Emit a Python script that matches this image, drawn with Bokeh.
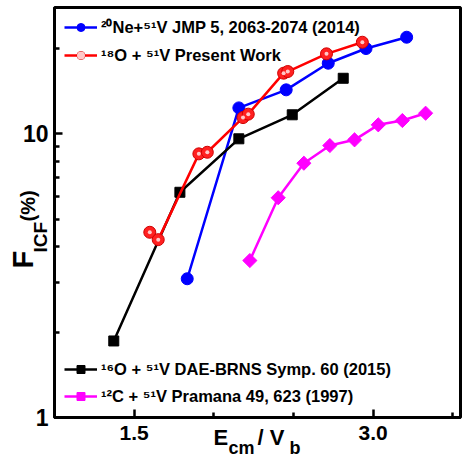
import math
from bokeh.plotting import figure
from bokeh.models import (Range1d, FixedTicker, Legend, LegendItem, Title,
                          NumeralTickFormatter, PrintfTickFormatter)
from bokeh.embed import file_html
from bokeh.resources import INLINE

# ---- data ----
ne_x = [1.833, 2.157, 2.454, 2.718, 2.955, 3.210]
ne_y = [3.08, 12.31, 14.25, 17.68, 19.92, 21.83]

o18_x = [1.598, 1.651, 1.906, 1.959, 2.183, 2.216, 2.438, 2.464, 2.707, 2.932]
o18_y = [4.49, 4.23, 8.48, 8.59, 11.38, 11.70, 16.31, 16.53, 19.08, 20.96]

o16_x = [1.372, 1.787, 2.157, 2.492, 2.812]
o16_y = [1.86, 6.21, 9.58, 11.64, 15.65]

c12_x = [2.226, 2.404, 2.565, 2.728, 2.883, 3.032, 3.183, 3.329]
c12_y = [3.57, 5.94, 7.86, 9.07, 9.50, 10.73, 11.11, 11.79]

x_ticks = [1.5, 3.0]
x_minor = [2.0, 2.5, 3.5]
y_ticks = [1, 10]
y_minor = [2, 3, 4, 5, 6, 7, 8, 9, 20]

lbl_ne = "²⁰Ne+⁵¹V JMP 5, 2063-2074 (2014)"
lbl_o18 = "¹⁸O + ⁵¹V Present Work"
lbl_o16 = "¹⁶O + ⁵¹V DAE-BRNS Symp. 60 (2015)"
lbl_c12 = "¹²C + ⁵¹V Pramana 49, 623 (1997)"

NB = "\u00a0"
FONT = "Liberation Sans"

p = figure(width=462, height=459, y_axis_type="log",
           x_range=Range1d(1.0, 3.548), y_range=Range1d(1, 27.78),
           output_backend="svg", toolbar_location=None,
           min_border_left=54, min_border_right=2, min_border_top=7, min_border_bottom=42)
p.grid.visible = False
p.outline_line_color = "black"
p.outline_line_width = 3
p.background_fill_color = "white"
p.border_fill_color = "white"

p.xaxis.ticker = FixedTicker(ticks=x_ticks, minor_ticks=x_minor)
p.xaxis.formatter = NumeralTickFormatter(format="0.0")
p.yaxis.ticker = FixedTicker(ticks=y_ticks, minor_ticks=y_minor)
p.yaxis.formatter = PrintfTickFormatter(format="%d")

for ax in (p.xaxis[0], p.yaxis[0]):
    ax.axis_line_width = 3
    ax.axis_line_color = "black"
    ax.major_tick_in = 8
    ax.major_tick_out = 0
    ax.minor_tick_in = 5
    ax.minor_tick_out = 0
    ax.major_tick_line_width = 2.5
    ax.minor_tick_line_width = 2.5
    ax.major_label_text_font = FONT
    ax.major_label_text_font_style = "bold"
    ax.major_label_text_color = "black"
p.xaxis.major_label_text_font_size = "21px"
p.xaxis.major_label_standoff = 8
p.yaxis.major_label_text_font_size = "23px"
p.yaxis.major_label_standoff = 6

# ---- series ----
ne_line = p.line(ne_x, ne_y, line_color="#0000ff", line_width=2.5)
ne_pts = p.scatter(ne_x, ne_y, marker="circle", size=12, fill_color="#0000ff", line_color="#0000ff")

o16_line = p.line(o16_x, o16_y, line_color="black", line_width=2.5)
o16_pts = p.scatter(o16_x, o16_y, marker="square", size=10, fill_color="black", line_color="black")

c12_line = p.line(c12_x, c12_y, line_color="#ff00ff", line_width=2.5)
c12_pts = p.scatter(c12_x, c12_y, marker="square", angle=math.pi / 4, size=10,
                    fill_color="#ff00ff", line_color="#ff00ff")

o18_line = p.line(o18_x, o18_y, line_color="#ff0000", line_width=2.5)
o18_pts = p.scatter(o18_x, o18_y, marker="circle", size=12, fill_color="#ff2020", line_color="#d00000", line_width=1)
o18_hl = p.scatter(o18_x, o18_y, marker="circle", size=4, fill_color="#ffc8c8", line_color=None)

def make_legend(items, loc):
    lg = Legend(items=items, location=loc)
    lg.label_text_font = FONT
    lg.label_text_font_style = "bold"
    lg.label_text_font_size = "16.5px"
    lg.label_text_color = "black"
    lg.glyph_width = 33
    lg.glyph_height = 20
    lg.label_height = 20
    lg.label_standoff = 4
    lg.spacing = 7
    lg.padding = 0
    lg.margin = 0
    lg.border_line_color = None
    lg.background_fill_alpha = 0
    return lg

p.add_layout(make_legend([LegendItem(label=lbl_ne, renderers=[ne_line, ne_pts]),
                          LegendItem(label=lbl_o18, renderers=[o18_line, o18_pts, o18_hl])], (10, 352)))
p.add_layout(make_legend([LegendItem(label=lbl_o16, renderers=[o16_line, o16_pts]),
                          LegendItem(label=lbl_c12, renderers=[c12_line, c12_pts])], (10, 11)))

def piece(text, side, offset, standoff, size, valign):
    p.add_layout(Title(text=text, align="left", vertical_align=valign, offset=offset, standoff=standoff,
                       text_font=FONT, text_font_style="bold", text_font_size=size,
                       text_color="black"), side)

# x axis title  E_cm / V_b
piece("E", "below", 159, -36, "22px", "top")
piece("/ V", "below", 203, -36, "22px", "top")
piece("cm" + NB * 7 + "b", "below", 174, -10, "18px", "top")

# y axis title  F_ICF(%)
piece("F", "left", 149, -38, "29px", "bottom")
piece("(%)", "left", 196, -39, "20px", "bottom")
piece("ICF", "left", 165, -62, "19px", "bottom")

open("out.html", "w").write(file_html(p, INLINE))
